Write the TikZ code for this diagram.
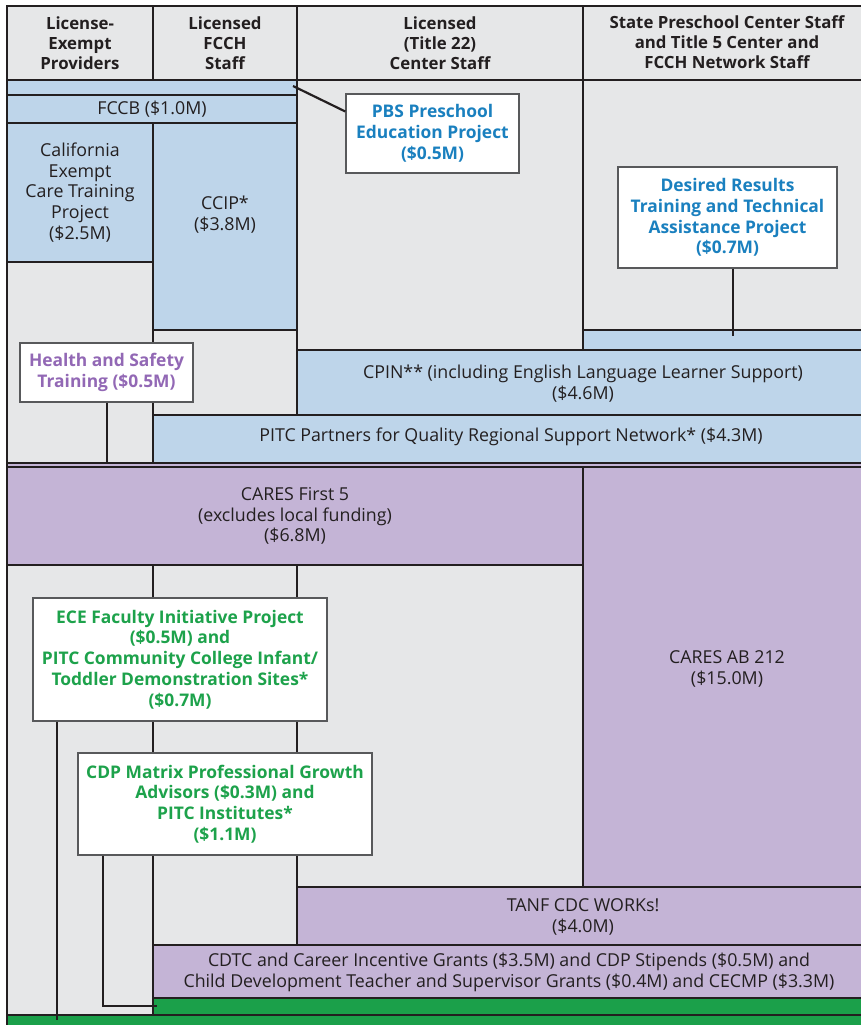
\documentclass[tikz,border=0pt]{standalone}
\usepackage{fontspec}
\setmainfont{Open Sans}
\definecolor{bggrey}{HTML}{E6E7E8}
\definecolor{cblue}{HTML}{BED5EA}
\definecolor{cpurple}{HTML}{C4B4D6}
\definecolor{cgreen}{HTML}{1BA04A}
\definecolor{ink}{HTML}{231F20}
\definecolor{tblue}{HTML}{1A80BF}
\definecolor{tpurple}{HTML}{9268B5}
\definecolor{tgreen}{HTML}{1DA24B}
\definecolor{boxline}{HTML}{58595B}
\newcommand\mkcell[7]{%
  \pgfmathsetmacro\mkW{#4-#2}\pgfmathsetmacro\mkH{#5-#3}%
  \node[cellbox,#6,minimum width=\mkW pt,minimum height=\mkH pt] (#1) at ({(#2+#4)/2},{(#3+#5)/2}) {#7};}
\tikzset{
  txt/.style={align=center,text=ink,font=\fontsize{17.8}{20.8}\selectfont},
  cellbox/.style={draw=ink,line width=2.5pt,inner sep=0pt,outer sep=0pt,txt},
  head/.style={fill=bggrey,font=\fontsize{16.8}{20}\selectfont\bfseries},
  grey/.style={fill=bggrey},
  blue/.style={fill=cblue},
  purple/.style={fill=cpurple},
  green/.style={fill=cgreen},
  label/.style={draw=boxline,line width=1.4pt,fill=white,inner sep=0pt,align=center,
     font=\fontsize{17.4}{20.8}\selectfont\bfseries},
  conn/.style={draw=ink,line width=2.7pt}
}
\begin{document}
\begin{tikzpicture}[x=1pt,y=-1pt]
\useasboundingbox (0,0) rectangle (861,1025);
\clip (0,0) rectangle (861,1025);
% header
\mkcell{h1}{7}{6}{153}{80}{head}{License-\\Exempt\\Providers}
\mkcell{h2}{153}{6}{297}{80}{head}{Licensed\\FCCH\\Staff}
\mkcell{h3}{297}{6}{583}{80}{head}{Licensed\\(Title 22)\\Center Staff}
\mkcell{h4}{583}{6}{1139}{80}{head}{}
\node[txt,font=\fontsize{16.8}{20}\selectfont\bfseries] (h4t) at (727,42) {State Preschool Center Staff\\and Title 5 Center and\\FCCH Network Staff};
% blue section
\mkcell{g3}{297}{80}{583}{350}{grey}{}
\mkcell{g4}{583}{80}{870}{330}{grey}{}
\mkcell{b0}{7}{80}{297}{95}{blue}{}
\mkcell{fccb}{7}{95}{297}{123}{blue}{FCCB (\$1.0M)}
\mkcell{cal}{7}{123}{153}{262}{blue}{California\\Exempt\\Care Training\\Project\\(\$2.5M)}
\mkcell{ccip}{153}{123}{297}{330}{blue}{CCIP*\\(\$3.8M)\\[6pt]}
\mkcell{g1}{7}{262}{153}{463}{grey}{}
\mkcell{g2}{153}{330}{297}{415}{grey}{}
\mkcell{b5}{583}{330}{870}{350}{blue}{}
\mkcell{cpin}{297}{350}{870}{415}{blue}{}
\node[txt] (cpint) at (583,384) {CPIN** (including English Language Learner Support)\\(\$4.6M)};
\mkcell{pitc}{153}{415}{870}{463}{blue}{}
\node[txt] (pitct) at (511,437) {PITC Partners for Quality Regional Support Network* (\$4.3M)};
% purple section
\mkcell{sep}{7}{463}{870}{467}{purple}{}
\mkcell{cf5}{7}{467}{583}{565}{purple}{CARES First 5\\(excludes local funding)\\(\$6.8M)}
\mkcell{ab212}{583}{467}{870}{887}{purple}{}
\node[txt] (abt) at (727,669) {CARES AB 212\\(\$15.0M)};
\mkcell{g5}{7}{565}{153}{1015}{grey}{}
\mkcell{g6}{153}{565}{297}{945}{grey}{}
\mkcell{g7}{297}{565}{583}{887}{grey}{}
\mkcell{tanf}{297}{887}{870}{945}{purple}{}
\node[txt] (tanft) at (583,917) {TANF CDC WORKs!\\(\$4.0M)};
\mkcell{cdtc}{153}{945}{870}{998}{purple}{}
\node[txt] (cdtct) at (509,972) {CDTC and Career Incentive Grants (\$3.5M) and CDP Stipends (\$0.5M) and\\Child Development Teacher and Supervisor Grants (\$0.4M) and CECMP (\$3.3M)};
\mkcell{gr1}{153}{998}{870}{1015}{green}{}
\mkcell{gr2}{7}{1015}{870}{1035}{green}{}
% label boxes
\node[label,text=tblue,minimum width=173pt,minimum height=79pt] (pbs) at (432.5,133.5) {PBS Preschool\\Education Project\\(\$0.5M)};
\node[label,text=tblue,minimum width=219pt,minimum height=101pt] (dr) at (727.5,217.5) {Desired Results\\Training and Technical\\Assistance Project\\(\$0.7M)};
\node[label,text=tpurple,minimum width=173pt,minimum height=59pt] (hs) at (106.5,372.5) {Health and Safety\\Training (\$0.5M)};
\node[label,text=tgreen,minimum width=294pt,minimum height=123pt] (ece) at (180,659.5) {ECE Faculty Initiative Project\\(\$0.5M) and\\PITC Community College Infant/\\Toddler Demonstration Sites*\\(\$0.7M)};
\node[label,text=tgreen,minimum width=294pt,minimum height=102pt] (cdp) at (225,804) {CDP Matrix Professional Growth\\Advisors (\$0.3M) and\\PITC Institutes*\\(\$1.1M)};
% connectors
\coordinate (pbsA) at (293,86);
\coordinate (drE) at (733,336);
\coordinate (hsE) at (107,463);
\coordinate (eceE) at (57,1020);
\coordinate (cdpT) at (103,1006);
\coordinate (cdpE) at (157,1006);
\draw[conn,line width=2.2pt] (pbsA) -- ([yshift=22pt]pbs.west);
\draw[conn] (dr.south -| drE) -- (drE);
\draw[conn] (hs.south -| hsE) -- (hsE);
\draw[conn] (ece.south -| eceE) -- (eceE);
\draw[conn] (cdp.south -| cdpT) -- (cdpT) -- (cdpE);
\end{tikzpicture}
\end{document}
